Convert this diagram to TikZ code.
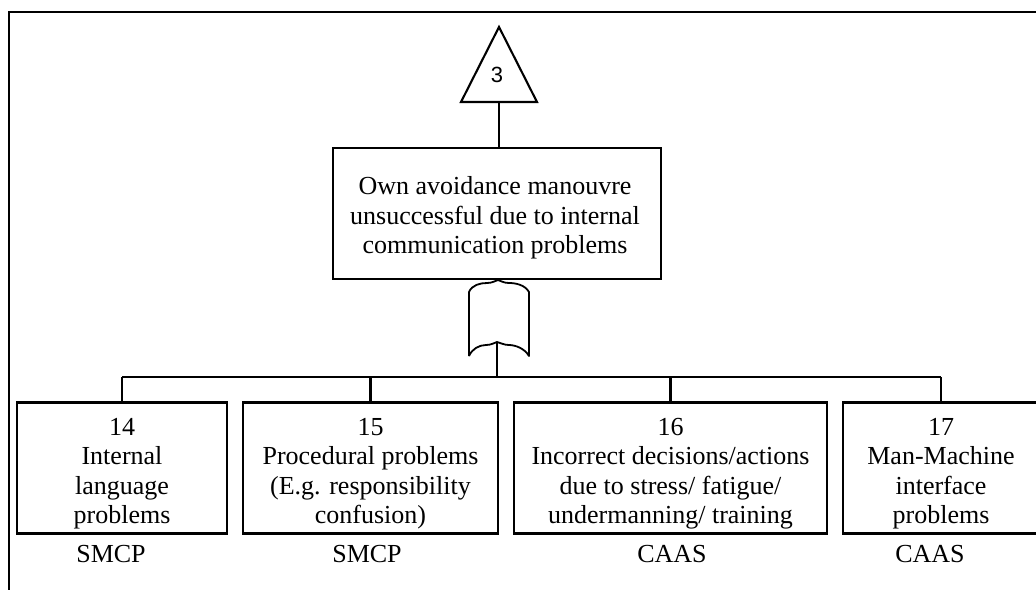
\documentclass[tikz,border=0pt]{standalone}
\usepackage{fontspec}
\setmainfont{Liberation Serif}
\newfontfamily\digitsans{Liberation Sans}
\begin{document}
\begin{tikzpicture}[x=1pt,y=-1pt,line width=2.1pt,
  evbox/.style={draw,rectangle,inner sep=0pt,minimum height=131pt},
  % multi-line text is placed by the baseline of its last line
  evtext/.style={anchor=base,align=center,inner sep=0pt,
    font=\fontsize{26}{29.5}\selectfont},
  srclabel/.style={anchor=base,inner sep=0pt,font=\fontsize{26}{29.5}\selectfont}]
\useasboundingbox (0,0) rectangle (1036,589);
\clip (0,0) rectangle (1036,589);

% outer frame (open to the right and bottom)
\draw (9,600) -- (9,12) -- (1050,12);

% transfer triangle
\coordinate (triapex) at (499,27);
\coordinate (tribase) at (499,102);
\draw (triapex) -- (537,102) -- (461,102) -- cycle;
\node[anchor=base,inner sep=0pt,font=\digitsans\fontsize{22}{24}\selectfont] (tri) at (497,82) {3};

% top event
\node[evbox,minimum width=328pt] (top) at (497,213.5) {};
\node[evtext] (toptext) at (495,253.5)
  {Own avoidance manouvre\\unsuccessful due to internal\\communication problems};
\draw (tribase) -- (top.north -| tribase);

% OR gate
\coordinate (gtop) at (498,280);
\coordinate (gbot) at (497,342);
\coordinate (bus) at (497,377);
\draw[line width=1.8pt,line join=round]
  (469,356) -- (469,292)
  .. controls (472,285) and (480,283) .. (487,283)
  .. controls (492,283) and (495,281) .. (gtop)
  .. controls (501,281) and (504,283) .. (509,283)
  .. controls (516,283) and (525,285) .. (529,292)
  -- (529,356)
  .. controls (525,349) and (516,345) .. (509,345)
  .. controls (504,345) and (501,343) .. (gbot)
  .. controls (494,343) and (491,345) .. (486,345)
  .. controls (479,345) and (472,349) .. (469,356);
\draw (gbot) -- (bus);

% basic events
\node[evbox,minimum width=210pt] (e14) at (122,468) {};
\node[evbox,minimum width=255pt] (e15) at (370.5,468) {};
\node[evbox,minimum width=313pt] (e16) at (670.5,468) {};
\node[evbox,minimum width=196pt] (e17) at (941,468) {};

\node[evtext] (t14) at (122,523.5) {14\\Internal\\language\\problems};
\node[evtext] (t15) at (370.5,523.5) {15\\Procedural problems\\(E.g. responsibility\\confusion)};
\node[evtext] (t16) at (670.5,523.5) {16\\Incorrect decisions/actions\\due to stress/ fatigue/\\undermanning/ training};
\node[evtext] (t17) at (941,523.5) {17\\Man-Machine\\interface\\problems};

% branch lines
\draw (e14.north |- bus) -- (e17.north |- bus);
\foreach \e in {e14,e15,e16,e17}
  \draw (\e.north) -- (\e.north |- bus);

% sources
\node[srclabel] (s14) at (111,562) {SMCP};
\node[srclabel] (s15) at (367,562) {SMCP};
\node[srclabel] (s16) at (672,562) {CAAS};
\node[srclabel] (s17) at (930,562) {CAAS};
\end{tikzpicture}
\end{document}
